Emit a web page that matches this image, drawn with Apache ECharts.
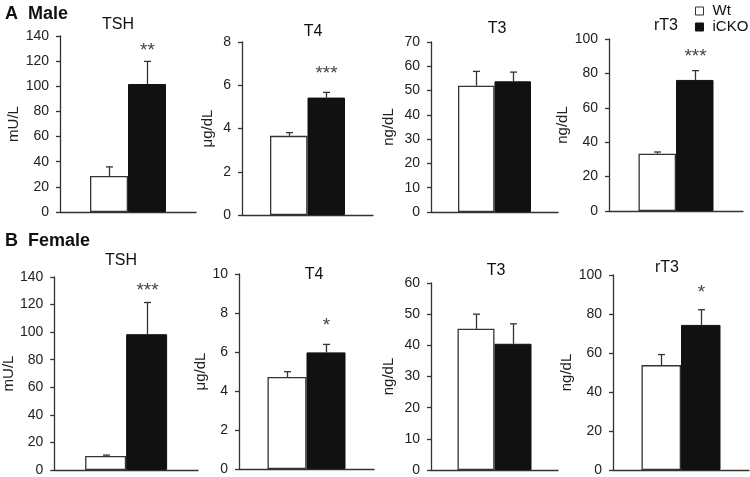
<!DOCTYPE html>
<html><head><meta charset="utf-8">
<script src="https://cdn.jsdelivr.net/npm/echarts@6/dist/echarts.min.js"></script>
<style>html,body{margin:0;padding:0;background:#fff}#c{width:750px;height:477px}</style>
</head><body><div id="c"></div>
<script>
// ---------- data ----------
const hormones = ['TSH', 'T4', 'T3', 'rT3'];
const units = ['mU/L', 'μg/dL', 'ng/dL', 'ng/dL'];
const groups = ['Wt', 'iCKO'];
const rowLetters = ['A', 'B'];
const rowNames = ['Male', 'Female'];

const maleWt = [28.7, 3.66, 52.0, 33.3];
const maleWtErr = [7.2, 0.15, 5.9, 1.0];
const maleKO = [101.8, 5.43, 53.8, 76.2];
const maleKOErr = [18.0, 0.24, 3.8, 5.4];
const maleSig = ['**', '***', '', '***'];
const maleAxisMax = [140, 8, 70, 100];
const maleAxisStep = [20, 2, 10, 20];

const femaleWt = [10.2, 4.72, 45.3, 53.8];
const femaleWtErr = [0.6, 0.27, 4.7, 5.4];
const femaleKO = [98.5, 5.98, 40.5, 74.4];
const femaleKOErr = [23.0, 0.41, 6.4, 7.8];
const femaleSig = ['***', '*', '', '*'];
const femaleAxisMax = [140, 10, 60, 100];
const femaleAxisStep = [20, 2, 10, 20];

// ---------- layout (styling only) ----------
const layout = [
  {l:60, r:196, t:36, b:212, bw:38, gap:36, tx:118, ty:25, star:11},
  {l:242, r:373, t:42, b:215, bw:37.5, gap:27, tx:313, ty:32, star:19},
  {l:431, r:558, t:42, b:212, bw:36.5, gap:35, tx:497, ty:29, star:16},
  {l:609, r:743, t:39, b:211, bw:37.5, gap:33, tx:666, ty:26, star:14},
  {l:51, r:198, t:277, b:472, bw:41, gap:35, tx:121, ty:261, star:12},
  {l:239, r:374, t:274, b:469, bw:39, gap:24, tx:314, ty:275, star:19},
  {l:431, r:558, t:283, b:470, bw:37, gap:35, tx:496, ty:271, star:16},
  {l:613, r:749, t:275, b:472, bw:39.5, gap:37, tx:667, ty:268, star:17}
];
const rowLabelY = [14, 241];

const FONT = '"Liberation Sans", Arial, sans-serif';
const AX = '#333';

const rows = [
  {wt: maleWt, wtErr: maleWtErr, ko: maleKO, koErr: maleKOErr, sig: maleSig, max: maleAxisMax, step: maleAxisStep},
  {wt: femaleWt, wtErr: femaleWtErr, ko: femaleKO, koErr: femaleKOErr, sig: femaleSig, max: femaleAxisMax, step: femaleAxisStep}
];

const grid = [], xAxis = [], yAxis = [], series = [], graphic = [];

rows.forEach((row, r) => {
  hormones.forEach((h, j) => {
    const k = r * 4 + j;
    const L = layout[k];
    grid.push({left: L.l, top: L.t, width: L.r - L.l, height: L.b - L.t, containLabel: false});
    xAxis.push({
      type: 'category', gridIndex: k, data: [h],
      axisLine: {show: true, lineStyle: {color: AX, width: 1.3}},
      axisTick: {show: false}, axisLabel: {show: false}
    });
    yAxis.push({
      type: 'value', gridIndex: k, min: 0, max: row.max[j], interval: row.step[j],
      name: units[j], nameLocation: 'middle', nameRotate: 90, nameGap: L.gap,
      nameTextStyle: {fontFamily: FONT, fontSize: 15, color: '#222'},
      axisLine: {show: true, lineStyle: {color: AX, width: 1.3}},
      axisTick: {show: true, inside: false, length: 4, lineStyle: {color: AX, width: 1.3}},
      axisLabel: {fontFamily: FONT, fontSize: 14, color: '#222', margin: 11},
      splitLine: {show: false}
    });
    series.push({
      type: 'bar', name: groups[0], xAxisIndex: k, yAxisIndex: k,
      data: [row.wt[j]], barWidth: L.bw, barGap: '0%',
      itemStyle: {color: '#fff', borderColor: AX, borderWidth: 1.3},
      emphasis: {disabled: true}, silent: true
    });
    series.push({
      type: 'bar', name: groups[1], xAxisIndex: k, yAxisIndex: k,
      data: [row.ko[j]], barWidth: L.bw, barGap: '0%',
      itemStyle: {color: '#111', borderColor: '#111', borderWidth: 1},
      emphasis: {disabled: true}, silent: true
    });
    const sig = row.sig[j];
    series.push({
      type: 'custom', xAxisIndex: k, yAxisIndex: k, silent: true, z: 5,
      encode: {x: 0, y: 1},
      data: [[0, row.wt[j], row.wtErr[j], -1], [0, row.ko[j], row.koErr[j], 1]],
      renderItem: function (params, api) {
        const side = api.value(3);
        const base = api.coord([api.value(0), api.value(1)]);
        const top = api.coord([api.value(0), api.value(1) + api.value(2)]);
        const x = Math.round(base[0] + side * L.bw / 2) + 0.5;
        const cap = 3.5;
        const children = [
          {type: 'line', shape: {x1: x, y1: base[1], x2: x, y2: top[1]}, style: {stroke: AX, lineWidth: 1.3}},
          {type: 'line', shape: {x1: x - cap, y1: top[1], x2: x + cap, y2: top[1]}, style: {stroke: AX, lineWidth: 1.3}}
        ];
        if (side > 0 && sig) {
          children.push({type: 'text', style: {text: sig, x: x, y: top[1] - L.star,
            textAlign: 'center', textVerticalAlign: 'middle', font: '19px ' + FONT, fill: '#444'}});
        }
        return {type: 'group', children: children};
      }
    });
    graphic.push({type: 'text', x: L.tx, y: L.ty, style: {text: h, font: '16px ' + FONT, fill: '#111',
      textAlign: 'center', textVerticalAlign: 'middle'}});
  });
  graphic.push({type: 'text', x: 5, y: rowLabelY[r], style: {text: rowLetters[r], font: 'bold 18px ' + FONT, fill: '#111', textVerticalAlign: 'middle'}});
  graphic.push({type: 'text', x: 28, y: rowLabelY[r], style: {text: rowNames[r], font: 'bold 18px ' + FONT, fill: '#111', textVerticalAlign: 'middle'}});
});

const chart = echarts.init(document.getElementById('c'), null, {renderer: 'canvas'});
chart.setOption({
  backgroundColor: '#fff',
  animation: false,
  grid, xAxis, yAxis, series, graphic,
  legend: {
    orient: 'vertical', left: 695, top: 3, padding: 0, itemWidth: 8, itemHeight: 8, itemGap: 0,
    icon: 'rect', selectedMode: false,
    textStyle: {fontFamily: FONT, fontSize: 15, color: '#111', lineHeight: 16, padding: [0, 0, 0, 4]},
    data: [
      {name: groups[0], itemStyle: {color: '#fff', borderColor: '#333', borderWidth: 1}},
      {name: groups[1], itemStyle: {color: '#111', borderColor: '#111', borderWidth: 1}}
    ]
  }
});
</script></body></html>
